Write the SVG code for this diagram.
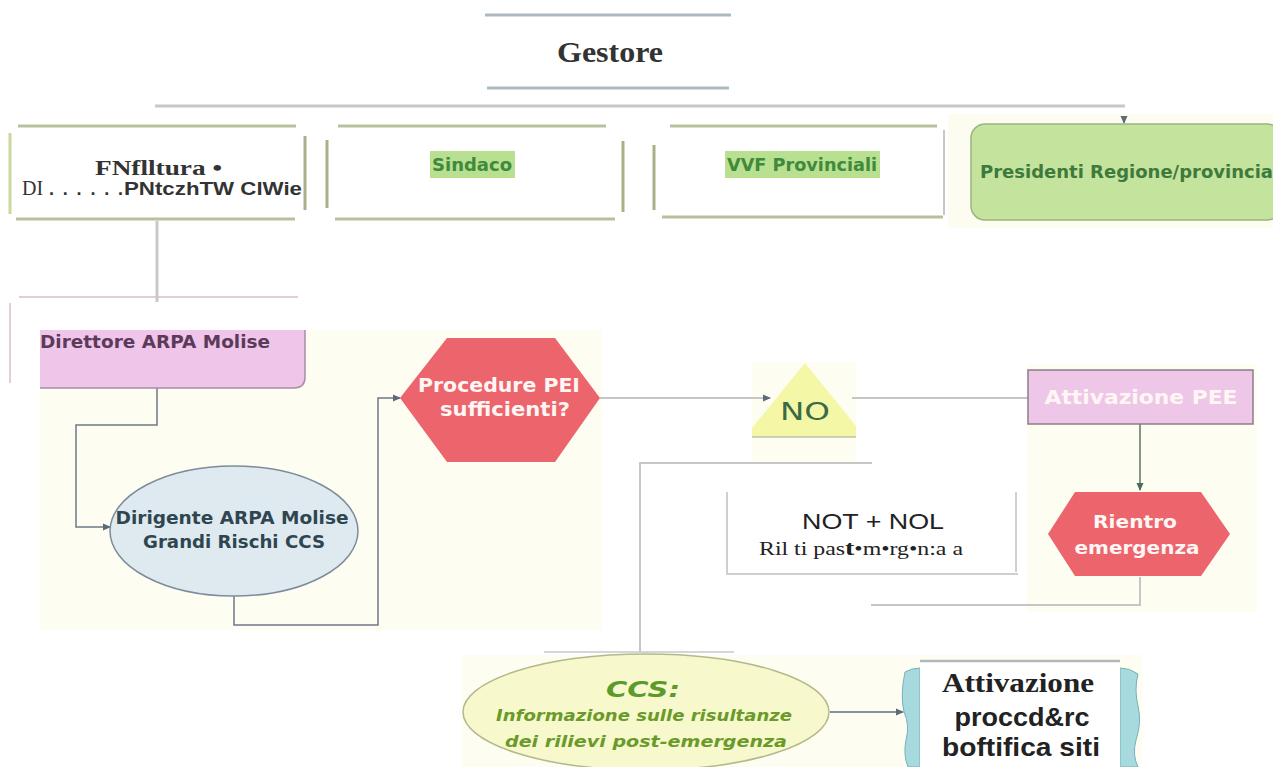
<svg xmlns="http://www.w3.org/2000/svg" width="1273" height="767" viewBox="0 0 1273 767">
  <defs>
    <marker id="arr" markerWidth="8" markerHeight="8" refX="7" refY="4" orient="auto" markerUnits="userSpaceOnUse">
      <path d="M0,0.5 L8,4 L0,7.5 z" fill="#5f6a78"/>
    </marker>
    <marker id="arrG" markerWidth="8" markerHeight="8" refX="7" refY="4" orient="auto" markerUnits="userSpaceOnUse">
      <path d="M0,0.5 L8,4 L0,7.5 z" fill="#4d6a60"/>
    </marker>
  </defs>
  <style>
    .rule { stroke: #b6c29c; stroke-width: 3; fill: none; }
    .grey { stroke: #c6c6c6; stroke-width: 2; fill: none; }
    .flow { stroke: #6f7888; stroke-width: 1.5; fill: none; }
    .comic { font-family: "DejaVu Sans", sans-serif; font-weight: bold; }
    .green { fill: #3f8a3c; font-size: 17px; }
    .wht { fill: #fff6f4; font-size: 19px; }
  </style>

  <rect width="1273" height="767" fill="#ffffff"/>

  <!-- cream panels -->
  <rect x="40" y="330" width="562" height="300" fill="#fdfdf2"/>
  <rect x="752" y="362" width="104" height="100" fill="#fdfdf2"/>
  <rect x="1027" y="364" width="230" height="248" fill="#fdfdf2"/>
  <rect x="462" y="655" width="680" height="112" fill="#fdfdf2"/>
  <rect x="948" y="114" width="325" height="114" fill="#fdfcf1"/>

  <!-- connectors -->
  <g id="connectors">
    <line x1="155" y1="106" x2="1125" y2="106" stroke="#c8c8c8" stroke-width="3"/>
    <path d="M1124,116 V123" stroke="#777" stroke-width="1.2" marker-end="url(#arr)"/>
    <line x1="157" y1="221" x2="157" y2="302" stroke="#c8c8c8" stroke-width="3"/>
    <line x1="19" y1="297" x2="298" y2="297" stroke="#d8bcd2" stroke-width="1.5"/>
    <line x1="10" y1="303" x2="10" y2="383" stroke="#d8bcd2" stroke-width="1.5"/>
    <path class="flow" d="M157,388 V425 H76 V527 H110" marker-end="url(#arr)"/>
    <path class="flow" d="M234,596 V625 H378 V398 H400" marker-end="url(#arr)"/>
    <path class="grey" d="M600,398 H770" marker-end="url(#arr)"/>
    <path class="grey" d="M852,398 H1028"/>
    <path d="M1140,424 V490" stroke="#5f7068" stroke-width="1.5" fill="none" marker-end="url(#arrG)"/>
    <path class="grey" d="M1140,577 V605 H871"/>
    <path class="grey" d="M872,463 H640 V652"/>
    <line x1="544" y1="652" x2="734" y2="652" stroke="#c8c8c8" stroke-width="1.5"/>
    <path d="M830,712 H903" stroke="#8890a0" stroke-width="2" fill="none" marker-end="url(#arr)"/>
  </g>

  <!-- Gestore -->
  <g id="gestore">
    <line x1="485" y1="15" x2="731" y2="15" stroke="#adb9bf" stroke-width="3"/>
    <line x1="487" y1="88" x2="729" y2="88" stroke="#adb9bf" stroke-width="3"/>
    <text x="610" y="62" text-anchor="middle" font-family="Liberation Serif, serif" font-weight="bold" font-size="29" fill="#333" textLength="106" lengthAdjust="spacingAndGlyphs">Gestore</text>
  </g>

  <!-- Box 1 -->
  <g id="box-prefettura">
    <line class="rule" x1="18" y1="126" x2="296" y2="126"/>
    <line x1="10" y1="133" x2="10" y2="214" stroke="#c8d8a0" stroke-width="3"/>
    <line x1="305" y1="136" x2="305" y2="210" stroke="#a8b088" stroke-width="3"/>
    <line class="rule" x1="16" y1="219" x2="295" y2="219"/>
    <text x="95" y="175" font-family="Liberation Serif, serif" font-weight="bold" font-size="22" fill="#333" textLength="127" lengthAdjust="spacingAndGlyphs">FNflltura •</text>
    <text x="22" y="195" font-family="Liberation Serif, serif" font-size="20" fill="#333">DI</text>
    <text x="49" y="195" font-family="Liberation Sans, sans-serif" font-weight="bold" font-size="18" fill="#333" textLength="74" lengthAdjust="spacing">......</text>
    <text x="124" y="195" font-family="Liberation Sans, sans-serif" font-weight="bold" font-size="19" fill="#333" textLength="178" lengthAdjust="spacingAndGlyphs">PNtczhTW ClWie</text>
  </g>

  <!-- Sindaco -->
  <g id="box-sindaco">
    <line class="rule" x1="338" y1="126" x2="606" y2="126"/>
    <line x1="327" y1="140" x2="327" y2="208" stroke="#a8b088" stroke-width="3"/>
    <line x1="623" y1="141" x2="623" y2="212" stroke="#a8b088" stroke-width="3"/>
    <line class="rule" x1="335" y1="219" x2="615" y2="219"/>
    <rect x="430" y="151" width="85" height="27" fill="#b8e090"/>
    <text class="comic green" x="472" y="171" text-anchor="middle" textLength="80" lengthAdjust="spacingAndGlyphs">Sindaco</text>
  </g>

  <!-- VVF -->
  <g id="box-vvf">
    <line class="rule" x1="670" y1="126" x2="937" y2="126"/>
    <line x1="654" y1="145" x2="654" y2="210" stroke="#a8b088" stroke-width="3"/>
    <line x1="944" y1="130" x2="944" y2="215" stroke="#b0b8a8" stroke-width="1.5"/>
    <line class="rule" x1="662" y1="217" x2="943" y2="217"/>
    <rect x="725" y="151" width="155" height="27" fill="#b8e090"/>
    <text class="comic green" x="802" y="171" text-anchor="middle" textLength="150" lengthAdjust="spacingAndGlyphs">VVF Provinciali</text>
  </g>

  <!-- Presidenti -->
  <g id="box-presidenti">
    <rect x="971" y="124" width="310" height="96" rx="14" fill="#c4e39c" stroke="#9cb482" stroke-width="1.5"/>
    <text class="comic" x="980" y="178" font-size="17" fill="#3e7a3c" textLength="293" lengthAdjust="spacingAndGlyphs">Presidenti Regione/provincia</text>
  </g>

  <!-- Direttore ARPA -->
  <g id="node-direttore">
    <path d="M40,330 H305 V377 Q305,388 294,388 H40 Z" fill="#efc6ea"/>
    <path d="M305,330 V377 Q305,388 294,388 H40" fill="none" stroke="#a88ca8" stroke-width="1.5"/>
    <text class="comic" x="40" y="348" font-size="17" fill="#5c3a5a" textLength="230" lengthAdjust="spacingAndGlyphs">Direttore ARPA Molise</text>
  </g>

  <!-- Dirigente -->
  <g id="node-dirigente">
    <ellipse cx="234" cy="531" rx="124" ry="65" fill="#dfeaf0" stroke="#7d8c9a" stroke-width="1.5"/>
    <text class="comic" x="232" y="524" text-anchor="middle" font-size="17" fill="#2f4650" textLength="233" lengthAdjust="spacingAndGlyphs">Dirigente ARPA Molise</text>
    <text class="comic" x="234" y="548" text-anchor="middle" font-size="17" fill="#2f4650" textLength="182" lengthAdjust="spacingAndGlyphs">Grandi Rischi CCS</text>
  </g>

  <!-- Procedure PEI -->
  <g id="node-procedure">
    <polygon points="400,398 447,338 555,338 600,398 555,462 447,462" fill="#ec646c"/>
    <text class="comic wht" x="499" y="392" text-anchor="middle" textLength="162" lengthAdjust="spacingAndGlyphs">Procedure PEI</text>
    <text class="comic wht" x="505" y="416" text-anchor="middle" textLength="130" lengthAdjust="spacingAndGlyphs">sufficienti?</text>
  </g>

  <!-- NO -->
  <g id="node-no">
    <polygon points="805,363 856,426 856,437 752,437 752,428" fill="#f4f7a6"/>
    <line x1="752" y1="437" x2="856" y2="437" stroke="#c0c0a8" stroke-width="1.5"/>
    <text x="805" y="420" text-anchor="middle" font-family="DejaVu Sans, sans-serif" font-size="25" fill="#3c6a44" textLength="50" lengthAdjust="spacingAndGlyphs">NO</text>
  </g>

  <!-- Attivazione PEE -->
  <g id="node-pee">
    <rect x="1028" y="370" width="225" height="54" fill="#eec6e8" stroke="#8c7c8c" stroke-width="1.5"/>
    <text class="comic wht" x="1141" y="404" text-anchor="middle" textLength="193" lengthAdjust="spacingAndGlyphs">Attivazione PEE</text>
  </g>

  <!-- Rientro emergenza -->
  <g id="node-rientro">
    <polygon points="1048,534 1075,492 1201,492 1230,534 1201,576 1075,576" fill="#ec646c"/>
    <text class="comic" x="1135" y="528" text-anchor="middle" font-size="17" fill="#fff6f4" textLength="84" lengthAdjust="spacingAndGlyphs">Rientro</text>
    <text class="comic" x="1137" y="554" text-anchor="middle" font-size="17" fill="#fff6f4" textLength="125" lengthAdjust="spacingAndGlyphs">emergenza</text>
  </g>

  <!-- NOT + NOL -->
  <g id="node-not-nol">
    <path d="M727,492 V574 H1018" fill="none" stroke="#c0c0c0" stroke-width="1.5"/>
    <line x1="1016" y1="492" x2="1016" y2="572" stroke="#c0c0c0" stroke-width="1.5"/>
    <text x="873" y="529" text-anchor="middle" font-family="Liberation Sans, sans-serif" font-size="22" fill="#222" textLength="142" lengthAdjust="spacingAndGlyphs">NOT + NOL</text>
    <text x="759" y="555" font-family="Liberation Serif, serif" font-size="18" fill="#222" textLength="204" lengthAdjust="spacingAndGlyphs">Ril ti pas<tspan font-weight="bold" font-size="21">t</tspan>•m•rg•n:a a</text>
  </g>

  <!-- CCS -->
  <g id="node-ccs">
    <ellipse cx="646" cy="712" rx="183" ry="58" fill="#f7f8cc" stroke="#b4b88a" stroke-width="1.5"/>
    <text class="comic" x="643" y="697" text-anchor="middle" font-size="22" font-style="italic" fill="#5c9a2c" textLength="74" lengthAdjust="spacingAndGlyphs">CCS:</text>
    <text class="comic" x="644" y="721" text-anchor="middle" font-size="15" font-style="italic" fill="#6a9a2a" textLength="296" lengthAdjust="spacingAndGlyphs">Informazione sulle risultanze</text>
    <text class="comic" x="646" y="747" text-anchor="middle" font-size="15" font-style="italic" fill="#6a9a2a" textLength="282" lengthAdjust="spacingAndGlyphs">dei rilievi post-emergenza</text>
  </g>

  <!-- Attivazione procedure bonifica -->
  <g id="node-bonifica">
    <path d="M905,672 Q912,668 920,668 V767 H908 Q903,755 906,740 Q910,725 904,712 Q900,695 905,672 Z" fill="#a6dade" stroke="#7ab0b6" stroke-width="1"/>
    <path d="M1120,668 Q1130,668 1138,674 Q1134,690 1138,706 Q1142,722 1136,740 Q1132,755 1138,767 H1120 Z" fill="#a6dade" stroke="#7ab0b6" stroke-width="1"/>
    <rect x="920" y="660" width="200" height="107" fill="#ffffff"/>
    <line x1="920" y1="661" x2="1120" y2="661" stroke="#b0b8bc" stroke-width="2.5"/>
    <text x="1018" y="692" text-anchor="middle" font-family="Liberation Serif, serif" font-weight="bold" font-size="28" fill="#222" textLength="152" lengthAdjust="spacingAndGlyphs">Attivazione</text>
    <text x="1022" y="726" text-anchor="middle" font-family="Liberation Sans, sans-serif" font-weight="bold" font-size="26" fill="#222" textLength="135" lengthAdjust="spacingAndGlyphs">proccd&amp;rc</text>
    <text x="1021" y="756" text-anchor="middle" font-family="Liberation Sans, sans-serif" font-weight="bold" font-size="26" fill="#222" textLength="158" lengthAdjust="spacingAndGlyphs">boftifica siti</text>
  </g>
</svg>
